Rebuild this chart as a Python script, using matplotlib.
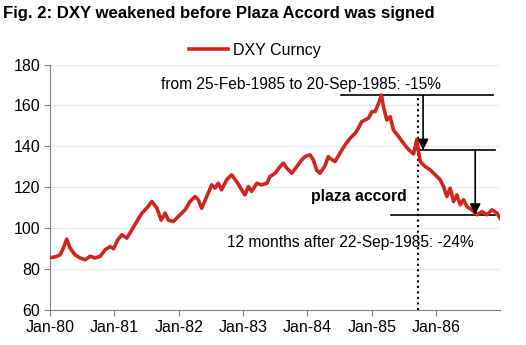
import matplotlib
matplotlib.use("Agg")
import matplotlib.pyplot as plt
import matplotlib.dates as mdates
import pandas as pd

plt.rcParams['font.family'] = ['Liberation Sans', 'DejaVu Sans']

# DXY index (approximate)
dates = ["1980-01-01", "1980-01-29", "1980-02-27", "1980-03-17", "1980-04-05", "1980-04-23",
         "1980-05-22", "1980-06-20", "1980-07-18", "1980-08-16", "1980-09-13", "1980-10-12",
         "1980-11-09", "1980-12-08", "1980-12-27", "1981-01-20", "1981-02-12", "1981-03-12",
         "1981-04-10", "1981-05-08", "1981-06-06", "1981-07-04", "1981-08-01", "1981-08-29",
         "1981-09-23", "1981-10-16", "1981-11-03", "1981-12-02", "1981-12-30", "1982-02-06",
         "1982-03-06", "1982-04-04", "1982-04-22", "1982-05-11", "1982-06-09", "1982-07-07",
         "1982-07-26", "1982-08-13", "1982-09-01", "1982-09-30", "1982-10-28", "1982-11-26",
         "1982-12-24", "1983-01-12", "1983-01-31", "1983-02-19", "1983-03-20", "1983-04-17",
         "1983-05-16", "1983-06-03", "1983-07-02", "1983-07-30", "1983-08-18", "1983-09-06",
         "1983-10-04", "1983-11-02", "1983-11-30", "1983-12-19", "1984-01-16", "1984-02-04",
         "1984-02-23", "1984-03-13", "1984-04-10", "1984-04-29", "1984-05-08", "1984-06-06",
         "1984-07-04", "1984-08-02", "1984-08-31", "1984-09-28", "1984-10-17", "1984-11-05",
         "1984-11-24", "1984-12-13", "1985-01-02", "1985-01-20", "1985-02-08", "1985-02-25",
         "1985-03-08", "1985-03-27", "1985-04-15", "1985-05-04", "1985-06-02", "1985-06-30",
         "1985-07-28", "1985-08-26", "1985-09-14", "1985-09-23", "1985-10-03", "1985-10-31",
         "1985-11-29", "1985-12-27", "1986-01-24", "1986-02-12", "1986-03-03", "1986-03-22",
         "1986-04-10", "1986-04-29", "1986-05-18", "1986-06-06", "1986-06-25", "1986-07-23",
         "1986-08-21", "1986-09-18", "1986-10-17", "1986-11-14", "1986-12-13", "1986-12-31"]
dxy = [85.6, 86.0, 87.0, 90.3, 94.7, 90.5,
       87.0, 85.5, 84.6, 86.3, 85.5, 86.3,
       89.5, 91.1, 90.0, 94.4, 96.8, 95.2,
       99.3, 103.3, 107.4, 109.9, 113.1, 110.0,
       104.0, 107.4, 104.0, 103.3, 105.8, 109.0,
       113.1, 115.5, 113.9, 109.8, 115.5, 121.2,
       119.6, 122.0, 118.8, 123.7, 126.1, 122.8,
       118.8, 116.3, 120.4, 118.0, 122.0, 121.2,
       122.0, 125.3, 126.9, 130.1, 131.8, 129.4,
       126.9, 130.1, 133.4, 135.0, 135.9, 133.4,
       128.4, 126.9, 130.5, 135.0, 134.2, 132.6,
       136.7, 140.7, 144.0, 146.4, 148.9, 152.1,
       152.9, 153.8, 157.0, 157.0, 161.0, 165.1,
       159.4, 152.9, 154.5, 148.0, 144.8, 141.5,
       138.5, 136.3, 143.5, 137.5, 132.6, 130.1,
       128.5, 126.1, 123.7, 120.4, 115.5, 119.6,
       113.1, 116.3, 111.5, 113.9, 110.6, 109.0,
       106.6, 108.2, 106.6, 109.0, 107.4, 104.8]

peak_date, peak_val = "1985-02-25", 165.0
plaza_date, plaza_val = "1985-09-22", 138.2
low_val = 106.6

x = pd.to_datetime(dates)
ts = pd.to_datetime

fig = plt.figure(figsize=(5.26, 3.45), dpi=100)
ax = fig.add_axes([0.095, 0.101, 0.856, 0.712])

ax.plot(x, dxy, color='#d0261f', lw=2.6, label='DXY Curncy', zorder=3)

ax.set_xlim(ts("1980-01-01"), ts("1986-12-31"))
ax.set_ylim(60, 180)
ax.set_yticks(range(60, 181, 20))
ax.xaxis.set_major_locator(mdates.YearLocator())
ax.xaxis.set_major_formatter(mdates.DateFormatter('%b-%y'))
ax.tick_params(labelsize=11.5, color='#808080', length=4, pad=3)
ax.grid(axis='y', color='#eeeeee', lw=1)
ax.set_axisbelow(True)
for s in ['top', 'right']:
    ax.spines[s].set_visible(False)
for s in ['left', 'bottom']:
    ax.spines[s].set_color('#808080')

# annotation lines
ax.plot([ts("1984-07-10"), ts("1986-11-20")], [peak_val, peak_val], color='black', lw=1.2)
ax.plot([ts(plaza_date), ts("1986-12-01")], [plaza_val, plaza_val], color='black', lw=1.2)
ax.plot([ts("1985-04-20"), ts("1986-12-01")], [low_val, low_val], color='black', lw=1.2)
ax.plot([ts(plaza_date), ts(plaza_date)], [60, peak_val], color='black', lw=1.5, ls=':')
ax.annotate('', xy=(ts("1985-10-19"), plaza_val), xytext=(ts("1985-10-19"), peak_val),
            arrowprops=dict(arrowstyle='-|>', color='black', lw=1.2, mutation_scale=16,
                            shrinkA=0, shrinkB=0))
ax.annotate('', xy=(ts("1986-08-11"), low_val), xytext=(ts("1986-08-11"), plaza_val),
            arrowprops=dict(arrowstyle='-|>', color='black', lw=1.2, mutation_scale=16,
                            shrinkA=0, shrinkB=0))

ax.text(ts("1981-09-25"), 170, 'from 25-Feb-1985 to 20-Sep-1985: -15%', fontsize=11.2, va='center')
ax.text(ts("1984-10-20"), 115.4, 'plaza accord', fontsize=11.3, fontweight='bold',
        ha='center', va='center')
ax.text(ts("1982-10-01"), 92.9, '12 months after 22-Sep-1985: -24%', fontsize=11.2, va='center')

fig.text(0.006, 0.962, 'Fig. 2: DXY weakened before Plaza Accord was signed',
         fontsize=12.1, fontweight='bold', va='center')
fig.legend(loc='center left', bbox_to_anchor=(0.345, 0.855), frameon=False, fontsize=11.5,
           handlelength=2.4, handletextpad=0.3, borderpad=0)

fig.savefig('out.png', dpi=100)
